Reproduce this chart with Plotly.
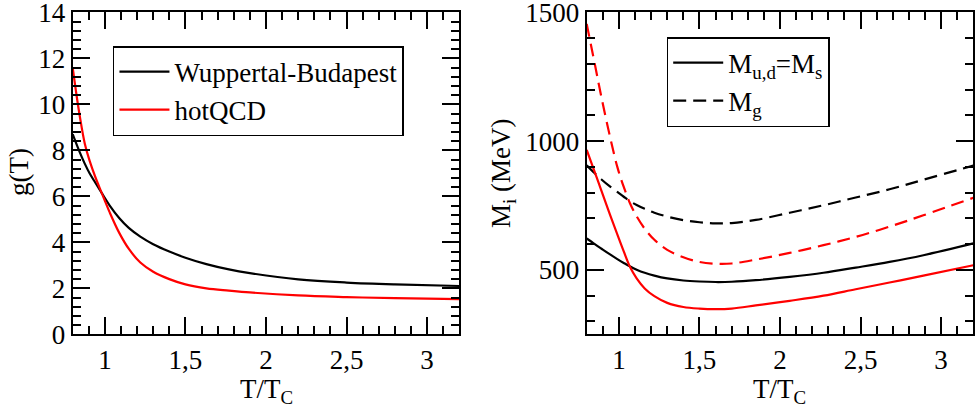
import plotly.graph_objects as go

# left panel: coupling g(T)
t_left = [0.8, 0.825, 0.845, 0.875, 0.905, 0.94, 0.98, 1.03, 1.09, 1.15, 1.22,
          1.3, 1.4, 1.5, 1.63, 1.77, 1.9, 2.2, 2.5, 2.8, 3.2]
g_wb = [8.7, 8.25, 7.9, 7.42, 7.0, 6.6, 6.15, 5.6, 5.05, 4.62, 4.25,
        3.92, 3.6, 3.33, 3.05, 2.82, 2.66, 2.39, 2.25, 2.17, 2.1]
g_hot = [11.6, 10.35, 9.45, 8.3, 7.55, 6.85, 6.15, 5.3, 4.4, 3.7, 3.12,
         2.72, 2.4, 2.17, 2.0, 1.9, 1.82, 1.69, 1.62, 1.57, 1.53]

# right panel: quasiparticle masses (MeV)
t_right = [0.8, 0.85, 0.89, 0.94, 0.99, 1.03, 1.07, 1.11, 1.16, 1.22, 1.3,
           1.4, 1.5, 1.6, 1.7, 1.85, 2.06, 2.27, 2.47, 2.68, 2.89, 3.2]
mq_wb = [622, 600, 583, 562, 542, 527, 513, 501, 489, 478, 467,
         459, 455, 453, 454, 460, 473, 489, 509, 531, 557, 603]
mg_wb = [906, 875, 852, 826, 803, 784, 766, 752, 737, 722, 707,
         693, 685, 681, 682, 694, 722, 751, 781, 813, 850, 905]
mq_hot = [966, 880, 810, 722, 638, 572, 510, 467, 428, 398, 372,
          356, 350, 348, 350, 362, 380, 400, 425, 451, 478, 518]
mg_hot = [1455, 1300, 1175, 1030, 900, 822, 757, 708, 660, 617, 578,
          549, 531, 524, 525, 540, 566, 596, 628, 668, 712, 780]

x_tickvals = [1, 1.5, 2, 2.5, 3]
x_ticktext = ["1", "1,5", "2", "2,5", "3"]
g_tickvals = [0, 2, 4, 6, 8, 10, 12, 14]
m_tickvals = [500, 1000, 1500]

FONT = "Liberation Serif"
W = 2.2
DASH = "13px,7px"

fig = go.Figure()

# black curves on the main axes, red ones on the top/right frame axes
fig.add_trace(go.Scatter(x=t_left, y=g_wb, mode="lines", name="Wuppertal-Budapest",
                         line=dict(color="black", width=W, shape="spline"),
                         xaxis="x", yaxis="y", legend="legend"))
fig.add_trace(go.Scatter(x=t_left, y=g_hot, mode="lines", name="hotQCD",
                         line=dict(color="red", width=W, shape="spline"),
                         xaxis="x3", yaxis="y3", legend="legend"))

fig.add_trace(go.Scatter(x=t_right, y=mq_wb, mode="lines", name="M<sub>u,d</sub>=M<sub>s</sub>",
                         line=dict(color="black", width=W, shape="spline"),
                         xaxis="x2", yaxis="y2", legend="legend2"))
fig.add_trace(go.Scatter(x=t_right, y=mg_wb, mode="lines", name="M<sub>g</sub>",
                         line=dict(color="black", width=W, shape="spline", dash=DASH),
                         xaxis="x2", yaxis="y2", legend="legend2"))
fig.add_trace(go.Scatter(x=t_right, y=mq_hot, mode="lines", showlegend=False,
                         line=dict(color="red", width=W, shape="spline"),
                         xaxis="x4", yaxis="y4"))
fig.add_trace(go.Scatter(x=t_right, y=mg_hot, mode="lines", showlegend=False,
                         line=dict(color="red", width=W, shape="spline", dash=DASH),
                         xaxis="x4", yaxis="y4"))

tfont = dict(family=FONT, size=27, color="black")

base = dict(showline=True, linecolor="black", linewidth=2, automargin=False,
            ticks="inside", ticklen=17, tickwidth=2, tickcolor="black",
            showgrid=False, zeroline=False, ticklabeloverflow="allow",
            tickfont=tfont, tickmode="array")

def xminor():
    return dict(dtick=0.1, tick0=0.8, ticks="inside", ticklen=8, tickwidth=2, tickcolor="black")

def yminor(step):
    return dict(dtick=step, tick0=0, ticks="inside", ticklen=8, tickwidth=2, tickcolor="black")

dom_left = [0.0743, 0.4696]
dom_right = [0.5999, 0.9952]
dom_y = [0.1826, 0.9699]

fig.update_layout(
    width=978, height=409,
    margin=dict(l=0, r=0, t=0, b=0),
    paper_bgcolor="white", plot_bgcolor="white",
    # bottom / left axes with labels
    xaxis=dict(base, domain=dom_left, anchor="y", range=[0.8, 3.2],
               tickvals=x_tickvals, ticktext=x_ticktext, minor=xminor()),
    yaxis=dict(base, domain=dom_y, anchor="x", range=[0, 14], tickvals=g_tickvals,
               ticksuffix="\u2009", minor=yminor(0.4)),
    xaxis2=dict(base, domain=dom_right, anchor="y2", range=[0.8, 3.2],
                tickvals=x_tickvals, ticktext=x_ticktext, minor=xminor()),
    yaxis2=dict(base, domain=dom_y, anchor="x2", range=[250, 1500], tickvals=m_tickvals,
                ticksuffix="\u2009", minor=yminor(100)),
    # top / right frame axes carrying the mirrored ticks
    xaxis3=dict(base, overlaying="x", side="top", anchor="y3", range=[0.8, 3.2],
                tickvals=x_tickvals, showticklabels=False, minor=xminor()),
    yaxis3=dict(base, overlaying="y", side="right", anchor="x3", range=[0, 14],
                tickvals=g_tickvals, showticklabels=False, minor=yminor(0.4)),
    xaxis4=dict(base, overlaying="x2", side="top", anchor="y4", range=[0.8, 3.2],
                tickvals=x_tickvals, showticklabels=False, minor=xminor()),
    yaxis4=dict(base, overlaying="y2", side="right", anchor="x4", range=[250, 1500],
                tickvals=m_tickvals, showticklabels=False, minor=yminor(100)),
    legend=dict(x=0.1155, y=0.8875, xanchor="left", yanchor="top", itemwidth=50,
                bordercolor="black", borderwidth=1.5, bgcolor="white",
                font=dict(family=FONT, size=27, color="black")),
    legend2=dict(x=0.6817, y=0.9095, xanchor="left", yanchor="top", itemwidth=50,
                 bordercolor="black", borderwidth=1.5, bgcolor="white",
                 font=dict(family=FONT, size=27, color="black")),
)

# axis titles as paper annotations
for txt, x, y, ang in [("T/T<sub>C</sub>", 0.272, 0.044, 0),
                       ("T/T<sub>C</sub>", 0.7975, 0.044, 0),
                       ("g(T)", 0.0194, 0.5795, -90),
                       ("M<sub>i</sub> (MeV)", 0.5143, 0.577, -90)]:
    fig.add_annotation(text=txt, x=x, y=y, xref="paper", yref="paper",
                       xanchor="center", yanchor="middle", textangle=ang,
                       showarrow=False, font=tfont)

# page body has a default margin; drop it so the figure fills the window
fig.write_html("out.html", post_script="document.body.style.margin='0';",
               config={"displayModeBar": False})
